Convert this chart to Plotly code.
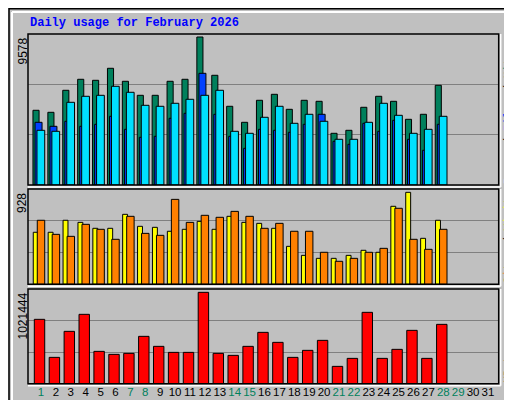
import plotly.graph_objects as go

# daily values, February 2026
days = list(range(1, 29))
hits = [4835, 4705, 6129, 6841, 6776, 7553, 6712, 5805, 5805, 6712, 6841, 9578, 7100, 5094,
        4058, 5482, 5870, 4899, 5482, 5417, 3346, 3540, 5029, 5741, 5417, 4252, 4576, 6453]
files = [3540, 3475, 5352, 5741, 5805, 6388, 6000, 5158, 5094, 5288, 5547, 5805, 6129, 3475,
         3346, 4382, 5094, 3993, 4576, 4123, 2958, 2958, 4058, 5288, 4511, 3346, 3605, 4446]
pages = [4058, 3799, 4123, 3799, 3929, 4446, 3605, 3087, 3152, 4317, 4640, 7229, 4576, 3152,
         2375, 3605, 3540, 3411, 3929, 4576, 2828, 2634, 3993, 3475, 4187, 2958, 2246, 3929]
visits = [525, 525, 646, 625, 565, 565, 706, 585, 575, 535, 555, 635, 555, 686,
          625, 615, 565, 383, 292, 262, 262, 292, 343, 323, 787, 928, 464, 646]
sites = [646, 504, 484, 605, 555, 454, 686, 514, 494, 857, 625, 696, 676, 736,
         686, 565, 615, 535, 535, 323, 232, 262, 323, 363, 767, 454, 353, 555]
kbytes = [719485, 294504, 585280, 775403, 361606, 328055, 339239, 529362, 417525, 350422,
          350422, 1021444, 339239, 316872, 417525, 574097, 462260, 294504, 372790, 484627,
          193851, 283320, 797771, 283320, 383974, 596464, 283320, 663566]
weekend = [1, 7, 8, 14, 15, 21, 22, 28, 29]
tick_labels = [str(d) for d in range(1, 32)]

BG = "#C0C0C0"
line = dict(color="black", width=1)

fig = go.Figure()


def bars(y, color, offset, width, axis):
    fig.add_trace(go.Bar(x=days, y=y, marker=dict(color=color, line=line),
                         offset=offset, width=width, xaxis="x" + axis, yaxis="y" + axis,
                         hoverinfo="y"))


bars(hits, "#00805C", -0.54, 0.41, "")
bars(pages, "#0040FF", -0.40, 0.47, "")
bars(files, "#00E0FF", -0.27, 0.52, "")
bars(visits, "#FFFF00", -0.52, 0.33, "2")
bars(sites, "#FF8000", -0.25, 0.50, "2")
bars(kbytes, "#FF0000", -0.45, 0.70, "3")

xr = [0.127, 31.72]
xdom = [20 / 512, 490.7 / 512]
panels = [(26, 177), (181, 276.3), (281, 375.7)]
tops = [max(hits) * 151 / 148, max(visits) * 286 / 276, max(kbytes) * 284 / 274]


def ydom(p):
    return [1 - p[1] / 400, 1 - p[0] / 400]


ticktext = [f'<span style="color:#00805C">{t}</span>' if int(t) in weekend else t
            for t in tick_labels]

xcommon = dict(range=xr, domain=xdom, showgrid=False, zeroline=False, showline=False,
               fixedrange=True, automargin=False)
fig.update_layout(
    width=512, height=400, margin=dict(l=0, r=0, t=0, b=0, autoexpand=False),
    paper_bgcolor=BG, plot_bgcolor=BG, barmode="overlay", showlegend=False,
    font=dict(family="Liberation Sans", size=12, color="black"),
    xaxis=dict(**xcommon, showticklabels=False),
    xaxis2=dict(**xcommon, showticklabels=False, anchor="y2"),
    xaxis3=dict(**xcommon, anchor="y3", tickmode="array", tickvals=list(range(1, 32)),
                ticktext=ticktext, ticks="", tickangle=0, tickfont=dict(size=11.5)),
)
for i, (p, top) in enumerate(zip(panels, tops)):
    key = "yaxis" if i == 0 else f"yaxis{i + 1}"
    fig.update_layout({key: dict(domain=ydom(p), range=[0, top], tickvals=[top / 3, 2 * top / 3],
                                 showticklabels=False, ticks="", gridcolor="#808080",
                                 gridwidth=1, zeroline=False, fixedrange=True, automargin=False,
                                 anchor="x" if i == 0 else f"x{i + 1}")})
    y0, y1 = ydom(p)
    fig.add_shape(type="rect", xref="paper", yref="paper", x0=xdom[0], x1=xdom[1],
                  y0=y0, y1=y1, line=dict(color="black", width=1.5))
    fig.add_shape(type="line", xref="paper", yref="paper", x0=xdom[0], x1=xdom[1] + 2 / 512,
                  y0=y0 - 2 / 400, y1=y0 - 2 / 400, line=dict(color="white", width=1.5))
    fig.add_shape(type="line", xref="paper", yref="paper", x0=xdom[1] + 2 / 512,
                  x1=xdom[1] + 2 / 512, y0=y0 - 2 / 400, y1=y1, line=dict(color="white", width=1.5))

# outer bevel
fig.add_shape(type="rect", xref="paper", yref="paper", x0=0.002, x1=0.998, y0=0.002, y1=0.998,
              line=dict(color="black", width=1.5))
fig.add_shape(type="line", xref="paper", yref="paper", x0=4 / 512, x1=505 / 512,
              y0=1 - 4 / 400, y1=1 - 4 / 400, line=dict(color="white", width=2))
fig.add_shape(type="line", xref="paper", yref="paper", x0=4 / 512, x1=4 / 512,
              y0=6 / 400, y1=1 - 4 / 400, line=dict(color="white", width=2))
fig.add_shape(type="line", xref="paper", yref="paper", x0=507 / 512, x1=507 / 512,
              y0=3 / 400, y1=1 - 3 / 400, line=dict(color="#808080", width=5))
fig.add_shape(type="line", xref="paper", yref="paper", x0=3 / 512, x1=509 / 512,
              y0=4 / 400, y1=4 / 400, line=dict(color="#808080", width=5))

mono = "Liberation Mono"
fig.add_annotation(text="<b>Daily usage for February 2026</b>", xref="paper", yref="paper",
                   x=20 / 512, y=1 - 15 / 400, xanchor="left", yanchor="middle", showarrow=False,
                   font=dict(family=mono, size=12, color="#0000FF"))

ylabels = [f"{max(hits)}", f"{max(visits)}", f"{max(kbytes)}"]
for p, lab in zip(panels, ylabels):
    fig.add_annotation(text=lab, xref="paper", yref="paper", x=14 / 512, y=1 - (p[0] + 2) / 400,
                       xanchor="center", yanchor="top", textangle=-90, showarrow=False,
                       font=dict(family="Liberation Sans", size=12, color="black"))

rlabels = [
    '<span style="color:#00E0FF">Pages</span> / <span style="color:#0040FF">Files</span>'
    ' / <span style="color:#00805C">Hits</span>',
    '<span style="color:#FF8000">Sites</span> / <span style="color:#FFFF00">Visits</span>',
    '<span style="color:#FF0000">KBytes</span>',
]
for p, lab in zip(panels, rlabels):
    fig.add_annotation(text=lab, xref="paper", yref="paper", x=500 / 512, y=1 - (p[1] + 1) / 400,
                       xanchor="center", yanchor="bottom", textangle=-90, showarrow=False,
                       font=dict(family=mono, size=11, color="black"))

fig.write_html("out.html")
